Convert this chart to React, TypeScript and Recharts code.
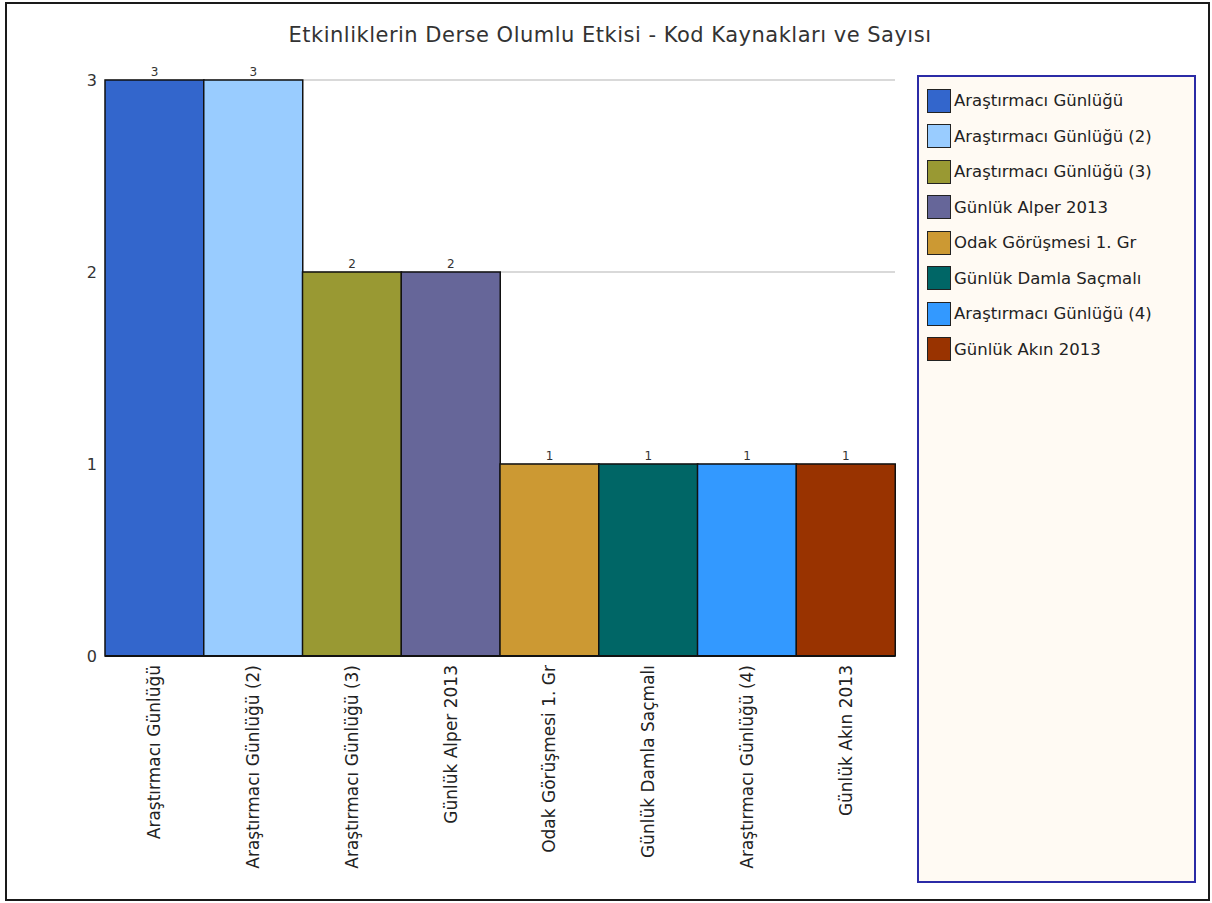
import { Bar, BarChart, CartesianGrid, Cell, LabelList, XAxis, YAxis } from "recharts";

const sources = [
  "Araştırmacı Günlüğü",
  "Araştırmacı Günlüğü (2)",
  "Araştırmacı Günlüğü (3)",
  "Günlük Alper 2013",
  "Odak Görüşmesi 1. Gr",
  "Günlük Damla Saçmalı",
  "Araştırmacı Günlüğü (4)",
  "Günlük Akın 2013",
];
const counts = [3, 3, 2, 2, 1, 1, 1, 1];
const colors = ["#3366CC", "#99CCFF", "#999933", "#666699", "#CC9933", "#006666", "#3399FF", "#993300"];
const yTicks = [0, 1, 2, 3];

const data = sources.map((name, i) => ({ name, value: counts[i] }));
const FONT = "'DejaVu Sans', Verdana, sans-serif";

function RotatedTick({ x, y, payload }: any) {
  return (
    <g transform={`translate(${x},${y})`}>
      <text transform="rotate(-90)" x={-1} y={0} dy={6} textAnchor="end" fontSize={17} fill="#222" fontFamily={FONT}>
        {payload.value}
      </text>
    </g>
  );
}

function SourceLegend() {
  return (
    <div
      style={{
        position: "absolute",
        left: 917,
        top: 75,
        width: 279,
        height: 808,
        border: "2px solid #2b2ba6",
        background: "#FFFAF3",
        boxSizing: "border-box",
        paddingTop: 6,
        paddingLeft: 8,
        fontFamily: FONT,
      }}
    >
      {sources.map((s, i) => (
        <div key={s} style={{ display: "flex", alignItems: "center", height: 35.5 }}>
          <span
            style={{
              width: 22,
              height: 22,
              background: colors[i],
              border: "1.5px solid #222",
              marginRight: 3,
              display: "inline-block",
            }}
          />
          <span style={{ fontSize: 16.5, color: "#222" }}>{s}</span>
        </div>
      ))}
    </div>
  );
}

export default function App() {
  return (
    <div style={{ position: "fixed", left: 0, top: 0, width: 1212, height: 903, background: "#fff" }}>
      <div
        style={{
          position: "absolute",
          left: 5,
          top: 2,
          width: 1205,
          height: 899,
          border: "2px solid #1a1a1a",
          boxSizing: "border-box",
        }}
      />
      <div
        style={{
          position: "absolute",
          left: 0,
          top: 23,
          width: 1220,
          textAlign: "center",
          fontFamily: FONT,
          fontSize: 21,
          letterSpacing: 0.5,
          color: "#333",
        }}
      >
        Etkinliklerin Derse Olumlu Etkisi - Kod Kaynakları ve Sayısı
      </div>
      <div style={{ position: "absolute", left: 0, top: 0 }}>
        <BarChart
          width={1212}
          height={903}
          data={data}
          margin={{ top: 80, right: 317, bottom: 47, left: 65 }}
          barCategoryGap={0}
        >
          <CartesianGrid vertical={false} stroke="#cccccc" strokeWidth={1.5} />
          <XAxis
            dataKey="name"
            interval={0}
            height={200}
            tickLine={false}
            axisLine={{ stroke: "#111", strokeWidth: 2 }}
            tick={<RotatedTick />}
          />
          <YAxis
            width={40}
            domain={[0, 3]}
            ticks={yTicks}
            axisLine={false}
            tickLine={false}
            tick={{ fill: "#333", fontSize: 16, fontFamily: FONT }}
          />
          <Bar dataKey="value" isAnimationActive={false} stroke="#111" strokeWidth={1.5}>
            {data.map((d, i) => (
              <Cell key={d.name} fill={colors[i]} />
            ))}
            <LabelList dataKey="value" position="top" offset={4} fontSize={12} fill="#333" fontFamily={FONT} />
          </Bar>
        </BarChart>
      </div>
      <SourceLegend />
    </div>
  );
}
